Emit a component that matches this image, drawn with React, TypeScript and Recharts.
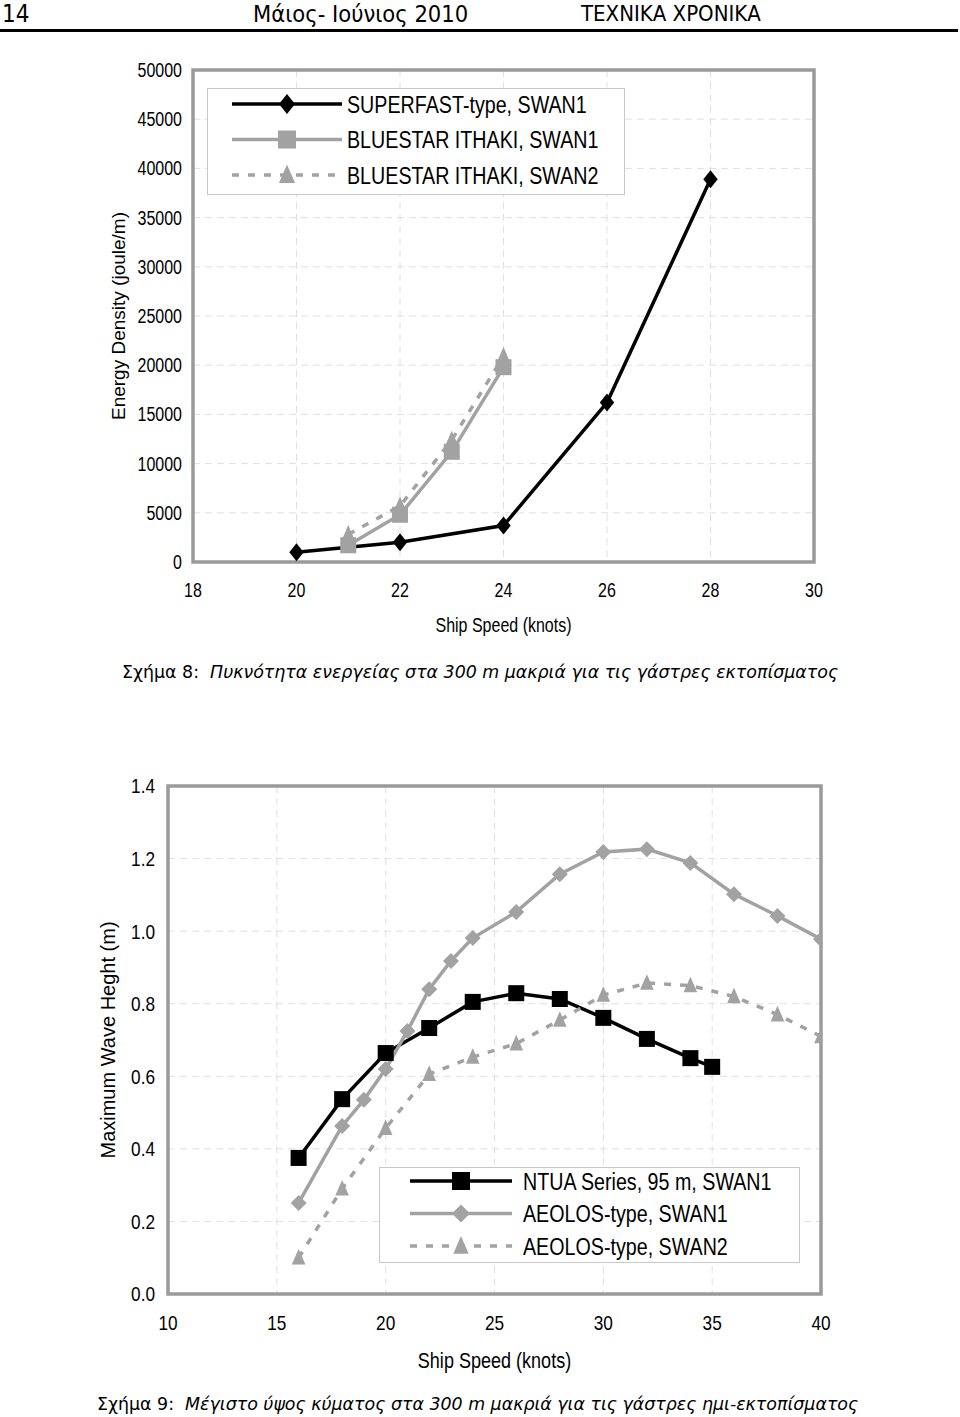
import { CartesianGrid, Legend, Line, LineChart, ReferenceArea, XAxis, YAxis } from 'recharts';

// Figure 8: energy density 300 m away, displacement hulls
const superfastSpeed = [20, 22, 24, 26, 28];
const superfastEnergy = [1000, 2000, 3700, 16200, 38900];
const bluestarSpeed = [21, 22, 23, 24];
const bluestarSwan1 = [1700, 4800, 11200, 19800];
const bluestarSwan2 = [2800, 5700, 12400, 20900];
const energyTicks = [0, 5000, 10000, 15000, 20000, 25000, 30000, 35000, 40000, 45000, 50000];
const energySpeedTicks = [18, 20, 22, 24, 26, 28, 30];

// Figure 9: max wave height 300 m away, semi-displacement hulls
const ntuaSpeed = [16, 18, 20, 22, 24, 26, 28, 30, 32, 34, 35];
const ntuaHeight = [0.375, 0.537, 0.664, 0.733, 0.805, 0.829, 0.813, 0.761, 0.703, 0.65, 0.626];
const aeolos1Speed = [16, 18, 19, 20, 21, 22, 23, 24, 26, 28, 30, 32, 34, 36, 38, 40];
const aeolos1Height = [0.251, 0.463, 0.535, 0.62, 0.725, 0.84, 0.918, 0.981, 1.053, 1.157, 1.218, 1.226, 1.188, 1.102, 1.042, 0.978];
const aeolos2Speed = [16, 18, 20, 22, 24, 26, 28, 30, 32, 34, 36, 38, 40];
const aeolos2Height = [0.1, 0.29, 0.457, 0.606, 0.653, 0.69, 0.755, 0.824, 0.857, 0.85, 0.82, 0.77, 0.71];
const waveTicks = [0, 0.2, 0.4, 0.6, 0.8, 1.0, 1.2, 1.4];
const waveSpeedTicks = [10, 15, 20, 25, 30, 35, 40];

// no Arial Narrow in the sandbox: squeeze Liberation Sans horizontally instead
const SANS = "'Liberation Sans', Arial, sans-serif";
const SQUEEZE = 0.82;
const PAGE_FONT = "'DejaVu Sans', Verdana, sans-serif";
const PAGE_FONT_COND = "'DejaVu Sans Condensed', 'DejaVu Sans', Verdana, sans-serif";

const BLACK = '#000';
const GRAY = '#a2a2a2';
const FRAME = '#9a9a9a';
const GRID = '#e0e0e0';
const DASH = '7 9';

type Shape = 'diamond' | 'square' | 'triangle';

interface Series {
  name: string;
  points: { x: number; y: number }[];
  color: string;
  dash?: string;
  shape: Shape;
  size: number;
  squash?: number;
}

const toPoints = (xs: number[], ys: number[]) => xs.map((x, i) => ({ x, y: ys[i] }));

const energySeries: Series[] = [
  { name: 'SUPERFAST-type, SWAN1', points: toPoints(superfastSpeed, superfastEnergy), color: BLACK, shape: 'diamond', size: 18, squash: 0.8 },
  { name: 'BLUESTAR ITHAKI, SWAN1', points: toPoints(bluestarSpeed, bluestarSwan1), color: GRAY, shape: 'square', size: 16 },
  { name: 'BLUESTAR ITHAKI, SWAN2', points: toPoints(bluestarSpeed, bluestarSwan2), color: GRAY, dash: DASH, shape: 'triangle', size: 17 },
];

const waveSeries: Series[] = [
  { name: 'NTUA Series, 95 m, SWAN1', points: toPoints(ntuaSpeed, ntuaHeight), color: BLACK, shape: 'square', size: 16 },
  { name: 'AEOLOS-type, SWAN1', points: toPoints(aeolos1Speed, aeolos1Height), color: GRAY, shape: 'diamond', size: 16, squash: 1 },
  { name: 'AEOLOS-type, SWAN2', points: toPoints(aeolos2Speed, aeolos2Height), color: GRAY, dash: DASH, shape: 'triangle', size: 16 },
];

function Marker({
  cx, cy, shape, size, fill, squash = 0.8,
}: { cx?: number; cy?: number; shape: Shape; size: number; fill: string; squash?: number }) {
  if (cx == null || cy == null) return null;
  const h = size / 2;
  if (shape === 'square') {
    return <rect x={cx - h} y={cy - h} width={size} height={size} fill={fill} />;
  }
  if (shape === 'diamond') {
    const w = h * squash;
    return <path d={`M${cx} ${cy - h}L${cx + w} ${cy}L${cx} ${cy + h}L${cx - w} ${cy}Z`} fill={fill} />;
  }
  const w = h * 0.85;
  return <path d={`M${cx} ${cy - h * 1.1}L${cx + w} ${cy + h * 0.85}L${cx - w} ${cy + h * 0.85}Z`} fill={fill} />;
}

function NarrowText({
  x, y, anchor, dy, size, children,
}: { x: number; y: number; anchor: 'start' | 'middle' | 'end'; dy: string; size: number; children: React.ReactNode }) {
  return (
    <text
      transform={`translate(${x} ${y}) scale(${SQUEEZE} 1)`}
      textAnchor={anchor}
      dy={dy}
      fontFamily={SANS}
      fontSize={size}
      fill="#000"
    >
      {children}
    </text>
  );
}

const xTick = (size: number) => (p: any) => (
  <NarrowText x={p.x} y={p.y} anchor="middle" dy="0.71em" size={size}>
    {p.payload.value}
  </NarrowText>
);

const yTick = (size: number, fmt: (v: number) => string) => (p: any) => (
  <NarrowText x={p.x} y={p.y} anchor="end" dy="0.355em" size={size}>
    {fmt(p.payload.value)}
  </NarrowText>
);

// x axis title, centred under the plot, baseline `drop` px below the axis line
const xTitle = (text: string, size: number, drop: number) => (p: any) => {
  const vb = p.viewBox;
  return (
    <NarrowText x={vb.x + vb.width / 2} y={vb.y + drop} anchor="middle" dy="0" size={size}>
      {text}
    </NarrowText>
  );
};

function LegendBox({
  items, width, height, firstRow, rowGap, lineFrom, lineTo, textX, fontSize,
}: {
  items: Series[]; width: number; height: number; firstRow: number; rowGap: number;
  lineFrom: number; lineTo: number; textX: number; fontSize: number;
}) {
  return (
    <div style={{ width, height, boxSizing: 'border-box', border: '1px solid #c8c8c8', background: '#fff' }}>
      <svg width={width - 2} height={height - 2} style={{ display: 'block' }}>
        {items.map((s, i) => {
          const y = firstRow + i * rowGap;
          return (
            <g key={s.name}>
              <line x1={lineFrom} x2={lineTo} y1={y} y2={y} stroke={s.color} strokeWidth={3.5} strokeDasharray={s.dash} />
              <Marker cx={(lineFrom + lineTo) / 2} cy={y} shape={s.shape} size={s.size + 2} fill={s.color} squash={s.squash} />
              <NarrowText x={textX} y={y} anchor="start" dy="0.355em" size={fontSize}>
                {s.name}
              </NarrowText>
            </g>
          );
        })}
      </svg>
    </div>
  );
}

function renderLines(series: Series[]) {
  return series.map((s) => (
    <Line
      key={s.name}
      data={s.points}
      dataKey="y"
      name={s.name}
      type="linear"
      stroke={s.color}
      strokeWidth={3.5}
      strokeDasharray={s.dash}
      isAnimationActive={false}
      dot={(p: any) => (
        <Marker key={`${s.name}-${p.index}`} cx={p.cx} cy={p.cy} shape={s.shape} size={s.size} fill={s.color} squash={s.squash} />
      )}
      activeDot={false}
    />
  ));
}

function EnergyChart() {
  return (
    <LineChart width={960} height={660} margin={{ top: 70, right: 146, bottom: 23, left: 113 }}>
      <CartesianGrid stroke={GRID} strokeDasharray="7 5" />
      <XAxis
        type="number"
        dataKey="x"
        domain={[18, 30]}
        ticks={energySpeedTicks}
        allowDataOverflow
        axisLine={false}
        tickLine={false}
        tickMargin={15}
        height={75}
        tick={xTick(19.5)}
        label={{ content: xTitle('Ship Speed (knots)', 19.5, 70) }}
      />
      <YAxis
        type="number"
        domain={[0, 50000]}
        ticks={energyTicks}
        allowDataOverflow
        axisLine={false}
        tickLine={false}
        tickMargin={5}
        width={80}
        tick={yTick(19.5, (v) => String(v))}
        label={{ value: 'Energy Density (joule/m)', angle: -90, position: 'insideLeft', offset: 5, style: { textAnchor: 'middle', fontSize: 19, fill: '#000', fontFamily: SANS } }}
      />
      <ReferenceArea x1={18} x2={30} y1={0} y2={50000} fill="none" stroke={FRAME} strokeWidth={3.5} />
      {renderLines(energySeries)}
      <Legend
        layout="horizontal"
        verticalAlign="middle"
        align="center"
        wrapperStyle={{ left: 207, top: 88, width: 418, height: 107 }}
        content={() => (
          <LegendBox items={energySeries} width={418} height={107} firstRow={15} rowGap={35.5} lineFrom={24} lineTo={134} textX={139} fontSize={24} />
        )}
      />
    </LineChart>
  );
}

function WaveChart() {
  return (
    <LineChart width={960} height={700} margin={{ top: 86, right: 139, bottom: 31, left: 88 }}>
      <CartesianGrid stroke={GRID} strokeDasharray="7 5" />
      <XAxis
        type="number"
        dataKey="x"
        domain={[10, 40]}
        ticks={waveSpeedTicks}
        allowDataOverflow
        axisLine={false}
        tickLine={false}
        tickMargin={15}
        height={75}
        tick={xTick(21)}
        label={{ content: xTitle('Ship Speed (knots)', 22, 74) }}
      />
      <YAxis
        type="number"
        domain={[0, 1.4]}
        ticks={waveTicks}
        allowDataOverflow
        axisLine={false}
        tickLine={false}
        tickMargin={7}
        width={80}
        tick={yTick(21, (v) => v.toFixed(1))}
        label={{ value: 'Maximum Wave Heght (m)', angle: -90, position: 'insideLeft', offset: 20, style: { textAnchor: 'middle', fontSize: 20, fill: '#000', fontFamily: SANS } }}
      />
      <ReferenceArea x1={10} x2={40} y1={0} y2={1.4} fill="none" stroke={FRAME} strokeWidth={3.5} />
      {renderLines(waveSeries)}
      <Legend
        layout="horizontal"
        verticalAlign="middle"
        align="center"
        wrapperStyle={{ left: 379, top: 467, width: 421, height: 96 }}
        content={() => (
          <LegendBox items={waveSeries} width={421} height={96} firstRow={13} rowGap={32.5} lineFrom={30} lineTo={132} textX={143} fontSize={24} />
        )}
      />
    </LineChart>
  );
}

export default function App() {
  return (
    <div style={{ position: 'absolute', top: 0, left: 0, width: 960, height: 1417, background: '#fff', overflow: 'hidden', color: '#000' }}>
      <div style={{ position: 'absolute', top: 0, left: 0 }}>
        <EnergyChart />
      </div>
      <div style={{ position: 'absolute', top: 661, left: 122, fontFamily: PAGE_FONT, fontSize: 17.4, lineHeight: '22px', whiteSpace: 'nowrap' }}>
        Σχήμα 8:&nbsp; <i>Πυκνότητα ενεργείας στα 300 m μακριά για τις γάστρες εκτοπίσματος</i>
      </div>

      <div style={{ position: 'absolute', top: 700, left: 0 }}>
        <WaveChart />
      </div>
      <div style={{ position: 'absolute', top: 1393, left: 97, fontFamily: PAGE_FONT, fontSize: 17.4, lineHeight: '22px', whiteSpace: 'nowrap' }}>
        Σχήμα 9:&nbsp; <i>Μέγιστο ύψος κύματος στα 300 m μακριά για τις γάστρες ημι-εκτοπίσματος</i>
      </div>

      <div style={{ position: 'absolute', top: 1, left: 0, width: 960, height: 28, fontFamily: PAGE_FONT_COND, fontSize: 22, lineHeight: '26px', whiteSpace: 'nowrap' }}>
        <span style={{ position: 'absolute', left: 2, top: 0, fontSize: 24 }}>14</span>
        <span style={{ position: 'absolute', left: 253, top: 0, fontSize: 23.5 }}>Μάιος- Ιούνιος 2010</span>
        <span style={{ position: 'absolute', left: 581, top: 0 }}>ΤΕΧΝΙΚΑ ΧΡΟΝΙΚΑ</span>
      </div>
      <div style={{ position: 'absolute', top: 29, left: 0, width: 958, height: 3, background: '#000' }} />
    </div>
  );
}
